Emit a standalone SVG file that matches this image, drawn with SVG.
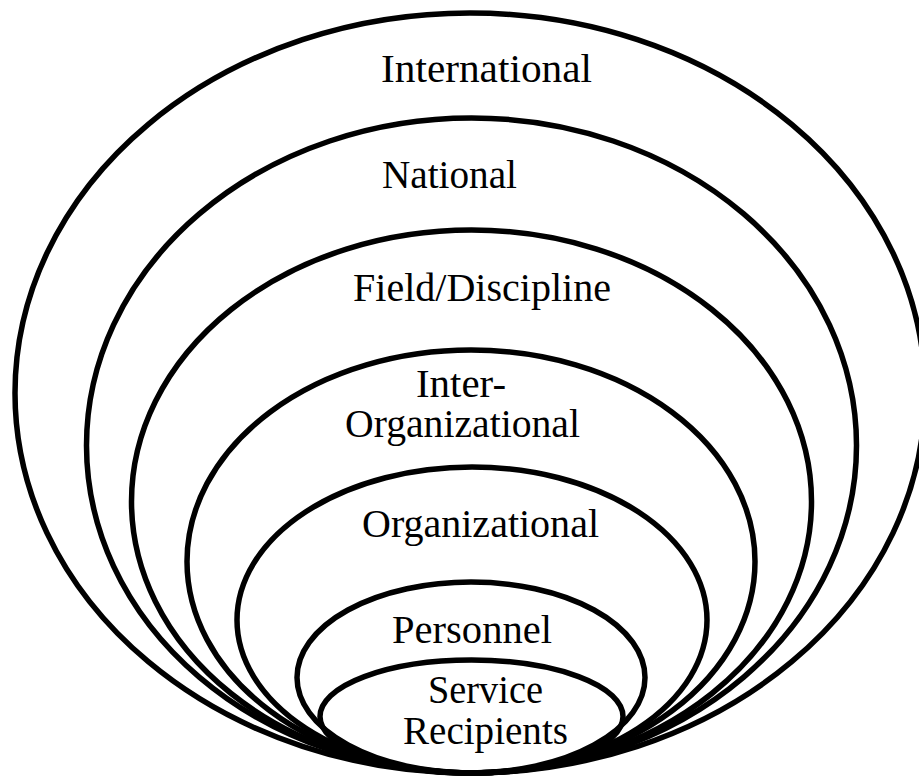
<svg xmlns="http://www.w3.org/2000/svg" width="919" height="778" viewBox="0 0 919 778">
<style>
.ring{fill:none;stroke:#000;stroke-width:5.5}
.lbl{font-family:"Liberation Serif","Times New Roman",serif;font-size:39px;fill:#000}
</style>
<rect width="919" height="778" fill="#fff"/>
<g id="international">
<ellipse class="ring" cx="470" cy="393" rx="455" ry="380"/>
<text class="lbl" x="381" y="82" textLength="211" lengthAdjust="spacingAndGlyphs">International</text>
</g>
<g id="national">
<ellipse class="ring" cx="471.5" cy="445.5" rx="385" ry="327.5"/>
<text class="lbl" x="382" y="188" textLength="135" lengthAdjust="spacingAndGlyphs">National</text>
</g>
<g id="field">
<ellipse class="ring" cx="471.5" cy="501.5" rx="340" ry="271.5"/>
<text class="lbl" x="353" y="301" textLength="258" lengthAdjust="spacingAndGlyphs">Field/Discipline</text>
</g>
<g id="inter-organizational">
<ellipse class="ring" cx="471" cy="561.5" rx="284" ry="211.5"/>
<text class="lbl" x="416" y="397" textLength="90" lengthAdjust="spacingAndGlyphs">Inter-</text>
<text class="lbl" x="345" y="437" textLength="235" lengthAdjust="spacingAndGlyphs">Organizational</text>
</g>
<g id="organizational">
<ellipse class="ring" cx="472" cy="620" rx="235" ry="153"/>
<text class="lbl" x="362" y="537" textLength="237" lengthAdjust="spacingAndGlyphs">Organizational</text>
</g>
<g id="personnel">
<ellipse class="ring" cx="471" cy="677.5" rx="174" ry="95.5"/>
<text class="lbl" x="392" y="643" textLength="160" lengthAdjust="spacingAndGlyphs">Personnel</text>
</g>
<g id="service-recipients">
<ellipse class="ring" cx="471.5" cy="716.5" rx="151.5" ry="56.5"/>
<text class="lbl" x="428" y="703" textLength="115" lengthAdjust="spacingAndGlyphs">Service</text>
<text class="lbl" x="403" y="744" textLength="165" lengthAdjust="spacingAndGlyphs">Recipients</text>
</g>
<g id="connectors"/>
</svg>
